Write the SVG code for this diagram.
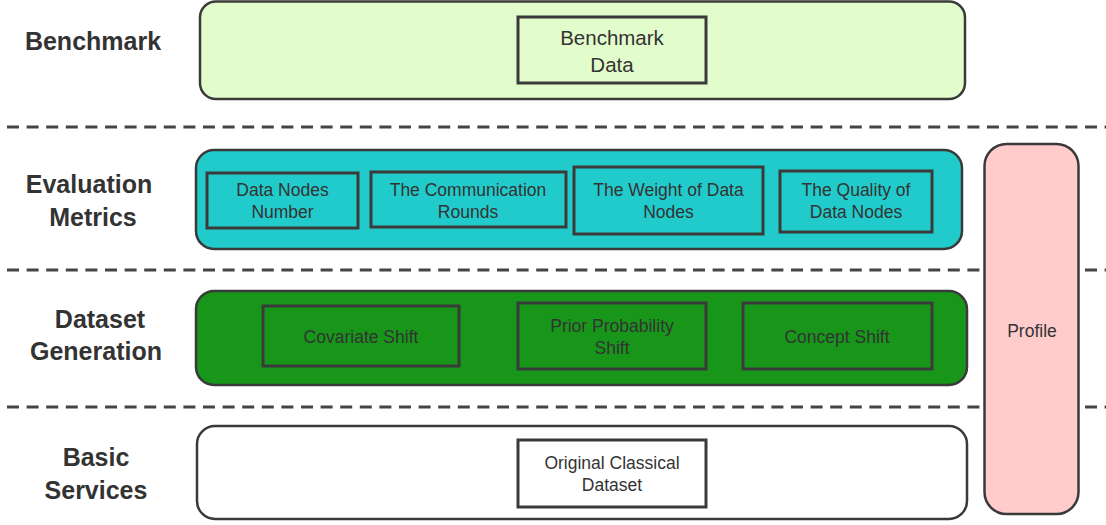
<svg xmlns="http://www.w3.org/2000/svg" width="1106" height="525" viewBox="0 0 1106 525">
  <style>
    .layer { stroke: #3a3a3a; stroke-width: 2.5; }
    .box { fill: none; stroke: #3a3a3a; stroke-width: 3; }
    .lbl { font-family: "Liberation Sans", Arial, sans-serif; font-size: 25px; font-weight: bold; fill: #333; text-anchor: middle; }
    .txt { font-family: "Liberation Sans", Arial, sans-serif; font-size: 17.5px; fill: #333; text-anchor: middle; }
    .sep { stroke: #444; stroke-width: 3; stroke-dasharray: 12 7.6; fill: none; }
  </style>
  <rect width="1106" height="525" fill="#ffffff"/>

  <g id="separators">
    <line class="sep" x1="7" y1="127" x2="1106" y2="127"/>
    <line class="sep" x1="7" y1="270" x2="1106" y2="270"/>
    <line class="sep" x1="7" y1="407" x2="1106" y2="407"/>
  </g>

  <g id="labels">
    <text class="lbl" x="93" y="50">Benchmark</text>
    <text class="lbl" x="89" y="193">Evaluation</text>
    <text class="lbl" x="93" y="226">Metrics</text>
    <text class="lbl" x="100" y="328">Dataset</text>
    <text class="lbl" x="96" y="360">Generation</text>
    <text class="lbl" x="96" y="466">Basic</text>
    <text class="lbl" x="96" y="499">Services</text>
  </g>

  <g id="benchmark">
    <rect class="layer" x="200" y="1.5" width="765" height="97.5" rx="16" fill="#e3fccc"/>
    <g id="benchmark-data">
      <rect class="box" x="518" y="17" width="188" height="66"/>
      <text class="txt" style="font-size:20.5px" x="612" y="45">Benchmark</text>
      <text class="txt" style="font-size:20.5px" x="612" y="72">Data</text>
    </g>
  </g>

  <g id="evaluation">
    <rect class="layer" x="196" y="150" width="766" height="99" rx="18" fill="#22cbcb"/>
    <g id="data-nodes-number">
      <rect class="box" x="207" y="173" width="151" height="55"/>
      <text class="txt" x="282.5" y="196">Data Nodes</text>
      <text class="txt" x="282.5" y="218">Number</text>
    </g>
    <g id="communication-rounds">
      <rect class="box" x="371" y="172" width="195" height="55"/>
      <text class="txt" x="468" y="196">The Communication</text>
      <text class="txt" x="468" y="218">Rounds</text>
    </g>
    <g id="weight-of-data-nodes">
      <rect class="box" x="574" y="167" width="189" height="67"/>
      <text class="txt" x="668.5" y="196">The Weight of Data</text>
      <text class="txt" x="668.5" y="218">Nodes</text>
    </g>
    <g id="quality-of-data-nodes">
      <rect class="box" x="780" y="171" width="152" height="61"/>
      <text class="txt" x="856" y="196">The Quality of</text>
      <text class="txt" x="856" y="218">Data Nodes</text>
    </g>
  </g>

  <g id="dataset-generation">
    <rect class="layer" x="196" y="291" width="771" height="94" rx="18" fill="#17961a"/>
    <g id="covariate-shift">
      <rect class="box" x="263" y="306" width="196" height="60"/>
      <text class="txt" x="361" y="343">Covariate Shift</text>
    </g>
    <g id="prior-probability-shift">
      <rect class="box" x="518" y="303" width="188" height="66"/>
      <text class="txt" x="612" y="332">Prior Probability</text>
      <text class="txt" x="612" y="354">Shift</text>
    </g>
    <g id="concept-shift">
      <rect class="box" x="743" y="303" width="189" height="66"/>
      <text class="txt" x="837" y="343">Concept Shift</text>
    </g>
  </g>

  <g id="basic-services">
    <rect class="layer" x="197" y="426" width="770" height="93" rx="18" fill="#ffffff"/>
    <g id="original-classical-dataset">
      <rect class="box" x="518" y="440" width="188" height="67"/>
      <text class="txt" x="612" y="469">Original Classical</text>
      <text class="txt" x="612" y="491">Dataset</text>
    </g>
  </g>

  <g id="profile">
    <rect class="layer" x="984.5" y="144" width="94" height="370" rx="22" fill="#ffcbcb"/>
    <text class="txt" x="1032" y="337">Profile</text>
  </g>

  <g id="connectors"></g>
</svg>
